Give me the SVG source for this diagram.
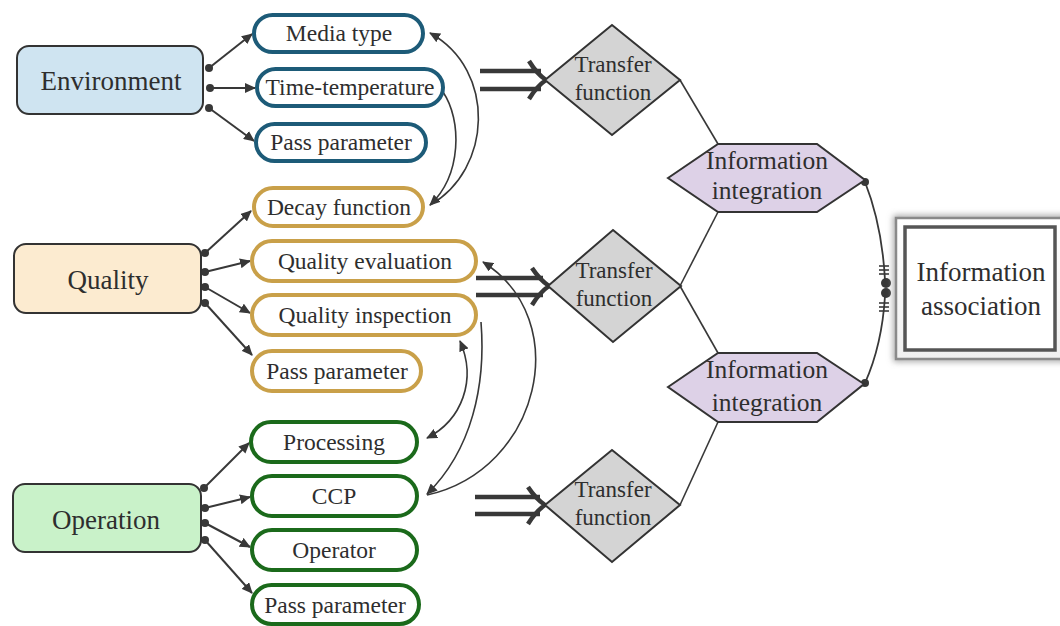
<svg xmlns="http://www.w3.org/2000/svg" width="1060" height="626" viewBox="0 0 1060 626" font-family="'Liberation Serif', 'Times New Roman', serif">
<style>
text{font-family:'Liberation Serif','Times New Roman',serif;fill:#2e2e2e;text-anchor:middle}
.cat{stroke:#333;stroke-width:2}
.cat text{font-size:27px}
.pill rect{fill:#fff;stroke-width:4}
.pill text{font-size:23.5px}
.env rect{stroke:#1d5b78}
.qual rect{stroke:#c9a049}
.op rect{stroke:#1b6a1b}
.conn line,.conn path{stroke:#383838;fill:none}
.lk{stroke-width:2;marker-end:url(#ah)}
.cv{stroke-width:1.6}
.dot{fill:#383838;stroke:none}
.dbl{stroke:#3a3a3a;stroke-width:4.5}
.tf polygon{fill:#d4d4d4;stroke:#333;stroke-width:2}
.tf text{font-size:23px}
.ii polygon{fill:#ddd1e7;stroke:#333;stroke-width:2}
.ii text{font-size:25.5px}
.ia text{font-size:27px}
</style>
<defs>
<marker id="ah" markerWidth="12" markerHeight="10" refX="10" refY="5" orient="auto" markerUnits="userSpaceOnUse">
<path d="M0,0 L11,5 L0,10 Z" fill="#383838"/>
</marker>
<marker id="ahs" markerWidth="12" markerHeight="10" refX="10" refY="5" orient="auto-start-reverse" markerUnits="userSpaceOnUse">
<path d="M0,0 L11,5 L0,10 Z" fill="#383838"/>
</marker>
<filter id="sh" x="-20%" y="-20%" width="140%" height="140%">
<feGaussianBlur stdDeviation="3"/>
</filter>
<linearGradient id="bg" x1="0" y1="0" x2="0" y2="1">
<stop offset="0" stop-color="#ffffff"/>
<stop offset="1" stop-color="#f0f0f0"/>
</linearGradient>
</defs>
<rect width="1060" height="626" fill="#fff"/>

<g id="connectors" class="conn">
<line class="lk" x1="209" y1="68" x2="252" y2="34"/>
<line class="lk" x1="210" y1="88" x2="255" y2="88"/>
<line class="lk" x1="209" y1="108" x2="254" y2="141"/>
<circle class="dot" cx="209" cy="68" r="4"/>
<circle class="dot" cx="210" cy="88" r="4"/>
<circle class="dot" cx="209" cy="108" r="4"/>
<line class="lk" x1="205" y1="253" x2="251" y2="211"/>
<line class="lk" x1="205" y1="272" x2="250" y2="261"/>
<line class="lk" x1="205" y1="287" x2="250" y2="313"/>
<line class="lk" x1="205" y1="303" x2="252" y2="355"/>
<circle class="dot" cx="205" cy="253" r="4"/>
<circle class="dot" cx="205" cy="272" r="4"/>
<circle class="dot" cx="205" cy="287" r="4"/>
<circle class="dot" cx="205" cy="303" r="4"/>
<line class="lk" x1="204" y1="488" x2="249" y2="443"/>
<line class="lk" x1="205" y1="508" x2="250" y2="497"/>
<line class="lk" x1="205" y1="523" x2="250" y2="547"/>
<line class="lk" x1="205" y1="540" x2="252" y2="593"/>
<circle class="dot" cx="204" cy="488" r="4"/>
<circle class="dot" cx="205" cy="508" r="4"/>
<circle class="dot" cx="205" cy="523" r="4"/>
<circle class="dot" cx="205" cy="540" r="4"/>
<path class="cv" d="M443 92 C462 120 462 175 430 205" marker-end="url(#ah)"/>
<path class="cv" d="M430 205 C492 170 497 70 430 33" marker-end="url(#ah)"/>
<path class="cv" d="M427 495 C540 470 575 320 483 262" marker-end="url(#ah)"/>
<path class="cv" d="M481 322 C486 385 472 450 427 494" marker-end="url(#ah)"/>
<path class="cv" d="M460 341 C477 380 462 420 427 438" marker-start="url(#ahs)" marker-end="url(#ah)"/>
<line class="dbl" x1="480" y1="71" x2="541" y2="71"/>
<line class="dbl" x1="480" y1="89" x2="541" y2="89"/>
<path class="dbl" d="M529 61 Q537 74 546 80 Q537 86 529 99"/>
<line class="dbl" x1="476" y1="278" x2="543" y2="278"/>
<line class="dbl" x1="476" y1="295" x2="543" y2="295"/>
<path class="dbl" d="M532 268 Q540 280 549 286 Q540 292 532 305"/>
<line class="dbl" x1="475" y1="497" x2="540" y2="497"/>
<line class="dbl" x1="475" y1="514" x2="540" y2="514"/>
<path class="dbl" d="M528 487 Q536 499 545 505 Q536 511 528 524"/>
<line x1="680" y1="80" x2="718" y2="144" stroke-width="1.6"/>
<line x1="680" y1="286" x2="718" y2="212" stroke-width="1.6"/>
<line x1="680" y1="286" x2="718" y2="353" stroke-width="1.6"/>
<line x1="680" y1="505" x2="718" y2="422" stroke-width="1.6"/>
<path d="M865 182 Q882 225 885 280" stroke-width="1.8"/>
<path d="M885 296 Q882 345 865 383" stroke-width="1.8"/>
<circle class="dot" cx="865" cy="182" r="4"/>
<circle class="dot" cx="865" cy="383" r="4"/>
<circle class="dot" cx="886" cy="283" r="5"/>
<circle class="dot" cx="886" cy="293" r="5"/>
<g stroke-width="1.6">
<line x1="879" y1="266" x2="889" y2="266"/>
<line x1="879" y1="270" x2="889" y2="270"/>
<line x1="879" y1="274" x2="889" y2="274"/>
<line x1="879" y1="303" x2="889" y2="303"/>
<line x1="879" y1="307" x2="889" y2="307"/>
<line x1="879" y1="311" x2="889" y2="311"/>
</g>
</g>

<g id="environment" class="cat">
<rect x="17" y="46" width="186" height="68" rx="12" fill="#cfe4f1"/>
<text x="111" y="90" stroke="none">Environment</text>
</g>
<g id="quality" class="cat">
<rect x="14" y="244" width="187" height="69" rx="12" fill="#fcebd0"/>
<text x="108" y="289" stroke="none">Quality</text>
</g>
<g id="operation" class="cat">
<rect x="13" y="484" width="188" height="68" rx="12" fill="#c9f2c9"/>
<text x="106" y="529" stroke="none">Operation</text>
</g>

<g id="media-type" class="pill env"><rect x="254" y="15" width="169" height="37" rx="18.5"/><text x="339" y="41">Media type</text></g>
<g id="time-temperature" class="pill env"><rect x="257" y="69" width="186" height="37" rx="18.5"/><text x="350" y="95">Time-temperature</text></g>
<g id="env-pass-parameter" class="pill env"><rect x="256" y="124" width="170" height="37" rx="18.5"/><text x="341" y="150">Pass parameter</text></g>

<g id="decay-function" class="pill qual"><rect x="254" y="188" width="169" height="38" rx="19"/><text x="339" y="215">Decay function</text></g>
<g id="quality-evaluation" class="pill qual"><rect x="252" y="241" width="224" height="40" rx="20"/><text x="365" y="269">Quality evaluation</text></g>
<g id="quality-inspection" class="pill qual"><rect x="252" y="295" width="224" height="40" rx="20"/><text x="365" y="323">Quality inspection</text></g>
<g id="qual-pass-parameter" class="pill qual"><rect x="252" y="351" width="169" height="40" rx="20"/><text x="337" y="379">Pass parameter</text></g>

<g id="processing" class="pill op"><rect x="251" y="422" width="166" height="40" rx="20"/><text x="334" y="450">Processing</text></g>
<g id="ccp" class="pill op"><rect x="252" y="476" width="165" height="40" rx="20"/><text x="334" y="504">CCP</text></g>
<g id="operator" class="pill op"><rect x="252" y="530" width="165" height="40" rx="20"/><text x="334" y="558">Operator</text></g>
<g id="op-pass-parameter" class="pill op"><rect x="252" y="585" width="167" height="39" rx="19.5"/><text x="335" y="613">Pass parameter</text></g>

<g id="transfer-1" class="tf"><polygon points="612,25 680,80 612,135 545,80"/><text x="613" y="72">Transfer</text><text x="613" y="100">function</text></g>
<g id="transfer-2" class="tf"><polygon points="613,230 681,286 613,342 548,286"/><text x="614" y="278">Transfer</text><text x="614" y="306">function</text></g>
<g id="transfer-3" class="tf"><polygon points="612,450 680,505 612,562 545,505"/><text x="613" y="497">Transfer</text><text x="613" y="525">function</text></g>

<g id="integration-1" class="ii"><polygon points="668,178 718,144 817,144 865,180 817,212 718,212"/><text x="767" y="169">Information</text><text x="767" y="199">integration</text></g>
<g id="integration-2" class="ii"><polygon points="668,387 718,353 817,353 864,384 817,422 718,422"/><text x="767" y="378">Information</text><text x="767" y="411">integration</text></g>

<g id="information-association" class="ia">
<rect x="896" y="218" width="170" height="141" fill="none" stroke="#9a9a9a" stroke-width="5" filter="url(#sh)"/>
<rect x="896" y="218" width="170" height="141" fill="url(#bg)" stroke="#8a8a8a" stroke-width="2.5"/>
<rect x="905" y="227" width="150" height="123" fill="#fff" stroke="#555" stroke-width="3.5"/>
<text x="981" y="281">Information</text>
<text x="981" y="315">association</text>
</g>
</svg>
